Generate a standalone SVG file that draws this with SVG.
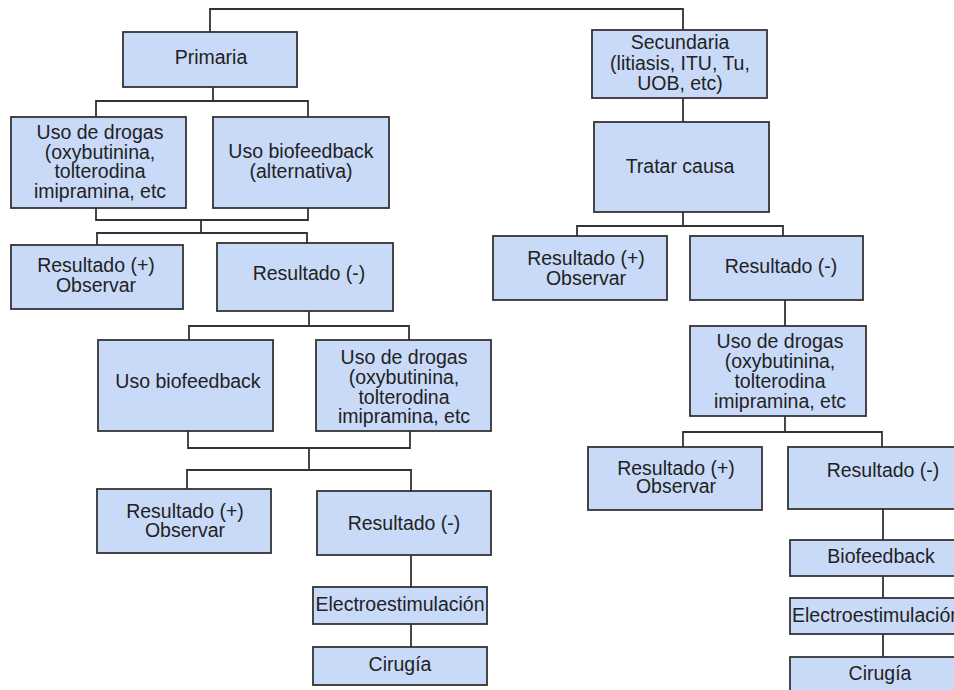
<svg xmlns="http://www.w3.org/2000/svg" width="954" height="690" viewBox="0 0 954 690">
<style>
.box{fill:#c9daf8;stroke:#333;stroke-width:1.8}
.t{font-family:"Liberation Sans",Arial,sans-serif;font-size:19.5px;fill:#222;text-anchor:middle}
.c{fill:none;stroke:#333;stroke-width:1.8}
</style>
<rect width="954" height="690" fill="#fff"/>
<g id="connectors" class="c">
<path d="M210,32 V9 H683 V30"/>
<path d="M213,87 V101 M96,117 V101 H308 V117"/>
<path d="M96,208 V220 H308 V208 M201,220 V233 M97,245 V233 H307 V243"/>
<path d="M309,311 V326 M189,340 V326 H409 V340"/>
<path d="M188,431 V448 H410 V431 M309,448 V470 M187,489 V470 H411 V491"/>
<path d="M411,555 V587 M411,624 V647"/>
<path d="M683,98 V122 M683,212 V226 M577,236 V226 H783 V236"/>
<path d="M785,300 V326 M785,416 V432 M683,447 V432 H882 V447"/>
<path d="M883,509 V540 M883,576 V598 M883,634 V657"/>
</g>
<g id="n1"><rect class="box" x="123" y="32" width="174" height="55"/><text class="t" x="211" y="64">Primaria</text></g>
<g id="n2"><rect class="box" x="11" y="117" width="175" height="91"/><text class="t"><tspan x="100" y="139">Uso de drogas</tspan><tspan x="100" y="158.5">(oxybutinina,</tspan><tspan x="100" y="178">tolterodina</tspan><tspan x="100" y="197.5">imipramina, etc</tspan></text></g>
<g id="n3"><rect class="box" x="213" y="117" width="176" height="91"/><text class="t"><tspan x="301" y="158">Uso biofeedback</tspan><tspan x="301" y="178">(alternativa)</tspan></text></g>
<g id="n4"><rect class="box" x="11" y="245" width="172" height="64"/><text class="t"><tspan x="96" y="272">Resultado (+)</tspan><tspan x="96" y="292">Observar</tspan></text></g>
<g id="n5"><rect class="box" x="217" y="243" width="176" height="68"/><text class="t" x="309" y="280">Resultado (-)</text></g>
<g id="n6"><rect class="box" x="98" y="340" width="175" height="91"/><text class="t" x="188" y="388">Uso biofeedback</text></g>
<g id="n7"><rect class="box" x="316" y="340" width="175" height="91"/><text class="t"><tspan x="404" y="364">Uso de drogas</tspan><tspan x="404" y="384">(oxybutinina,</tspan><tspan x="404" y="404">tolterodina</tspan><tspan x="404" y="423">imipramina, etc</tspan></text></g>
<g id="n8"><rect class="box" x="97" y="489" width="174" height="64"/><text class="t"><tspan x="185" y="518">Resultado (+)</tspan><tspan x="185" y="537">Observar</tspan></text></g>
<g id="n9"><rect class="box" x="317" y="491" width="174" height="64"/><text class="t" x="404" y="530">Resultado (-)</text></g>
<g id="n10"><rect class="box" x="313" y="587" width="174" height="37"/><text class="t" x="400" y="611">Electroestimulación</text></g>
<g id="n11"><rect class="box" x="313" y="647" width="174" height="38"/><text class="t" x="400" y="671">Cirugía</text></g>
<g id="n12"><rect class="box" x="592" y="30" width="175" height="68"/><text class="t"><tspan x="680" y="49">Secundaria</tspan><tspan x="680" y="70">(litiasis, ITU, Tu,</tspan><tspan x="680" y="90">UOB, etc)</tspan></text></g>
<g id="n13"><rect class="box" x="594" y="122" width="175" height="90"/><text class="t" x="680" y="173">Tratar causa</text></g>
<g id="n14"><rect class="box" x="493" y="236" width="174" height="64"/><text class="t"><tspan x="586" y="265">Resultado (+)</tspan><tspan x="586" y="285">Observar</tspan></text></g>
<g id="n15"><rect class="box" x="690" y="236" width="173" height="64"/><text class="t" x="781" y="273">Resultado (-)</text></g>
<g id="n16"><rect class="box" x="690" y="326" width="176" height="90"/><text class="t"><tspan x="780" y="348">Uso de drogas</tspan><tspan x="780" y="368">(oxybutinina,</tspan><tspan x="780" y="388">tolterodina</tspan><tspan x="780" y="408">imipramina, etc</tspan></text></g>
<g id="n17"><rect class="box" x="588" y="447" width="174" height="63"/><text class="t"><tspan x="676" y="475">Resultado (+)</tspan><tspan x="676" y="493">Observar</tspan></text></g>
<g id="n18"><rect class="box" x="788" y="447" width="180" height="62"/><text class="t" x="883" y="477">Resultado (-)</text></g>
<g id="n19"><rect class="box" x="790" y="540" width="180" height="36"/><text class="t" x="881" y="563">Biofeedback</text></g>
<g id="n20"><rect class="box" x="790" y="598" width="180" height="36"/><text class="t" x="792" y="622" style="text-anchor:start">Electroestimulación</text></g>
<g id="n21"><rect class="box" x="790" y="657" width="180" height="40"/><text class="t" x="880" y="680">Cirugía</text></g>
</svg>
